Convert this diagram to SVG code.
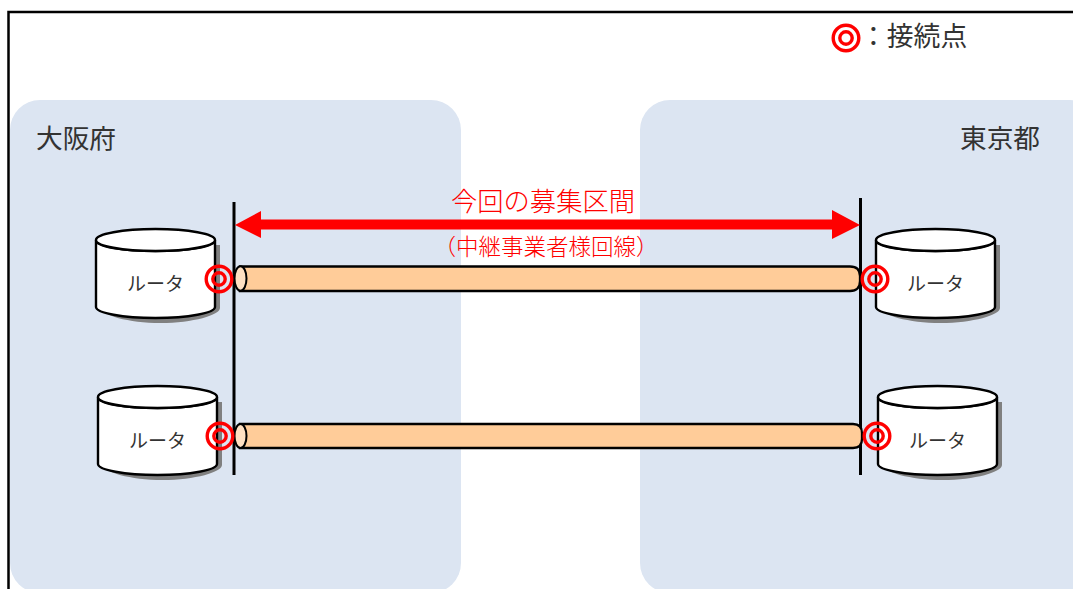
<svg xmlns="http://www.w3.org/2000/svg" width="1073" height="589" viewBox="0 0 1073 589">
<defs>
<style>
text{font-family:"Noto Sans CJK JP","Noto Sans",sans-serif;fill:#333;font-weight:400}
.panel{fill:#dce5f2}
.shadow{fill:#808080}
.body{fill:#fff;stroke:#000;stroke-width:2.400}
.pipe{fill:#ffcc99;stroke:#000;stroke-width:2.300}
.cap{fill:#ffe0c2;stroke:#000;stroke-width:2}
.bar{stroke:#000;stroke-width:3;fill:none}
.ring{fill:none;stroke:#f00;stroke-width:3.400}
.lab{font-size:19px;text-anchor:middle}
text.red{fill:#f00;font-weight:300}
.red{fill:#f00}
</style>
<g id="router-shape">
<path class="shadow" d="M5 16V79C5 86 32 94 64.500 94S124 86 124 79V16Z"/>
<path class="body" d="M0 11V78C0 84 27 89 59.500 89S119 84 119 78V11C119 18 92 22 59.500 22S0 18 0 11Z"/>
<ellipse class="body" cx="59.500" cy="11" rx="59.500" ry="11"/>
</g>
<g id="ring-shape">
<circle class="ring" r="12.800"/>
<circle class="ring" r="6.200"/>
</g>
</defs>
<rect width="1073" height="589" fill="#fff"/>
<path d="M8.500 589V12H1073" fill="none" stroke="#000" stroke-width="2.500"/>
<g id="region-osaka">
<rect class="panel" x="10" y="100" width="451" height="493" rx="30"/>
<text x="36" y="148" font-size="26.700">大阪府</text>
</g>
<g id="region-tokyo">
<rect class="panel" x="640" y="100" width="460" height="493" rx="30"/>
<text x="960" y="148" font-size="26.700">東京都</text>
</g>
<g id="legend">
<use href="#ring-shape" x="846" y="38"/>
<text x="860" y="46" font-size="26.800">：接続点</text>
</g>
<g id="connectors">
<path class="bar" d="M234 202V475"/>
<path class="bar" d="M860.500 198V475"/>
<path class="red" d="M235 225L261 211V219.500H832V210L860 225L832 239V229.500H261V238Z"/>
<path class="pipe" d="M240 266.500H850Q860 266.500 860 276V281Q860 291 850 291H240Z"/>
<ellipse class="cap" cx="240.500" cy="278.500" rx="6" ry="12.300"/>
<path class="pipe" d="M240 424H853Q862 424 862 433V439Q862 448 853 448H240Z"/>
<ellipse class="cap" cx="240.500" cy="436" rx="6" ry="12"/>
</g>
<g id="label-section">
<text class="red" x="543" y="211" font-size="26.300" text-anchor="middle">今回の募集区間</text>
<text class="red" x="546" y="255" font-size="22.500" text-anchor="middle">（中継事業者様回線）</text>
</g>
<g id="router-1">
<use href="#router-shape" x="96" y="229"/>
<text class="lab" x="155.500" y="291">ルータ</text>
</g>
<g id="router-2">
<use href="#router-shape" x="876" y="229"/>
<text class="lab" x="935.500" y="291">ルータ</text>
</g>
<g id="router-3">
<use href="#router-shape" x="98" y="386"/>
<text class="lab" x="157.500" y="448">ルータ</text>
</g>
<g id="router-4">
<use href="#router-shape" x="878" y="386"/>
<text class="lab" x="937.500" y="448">ルータ</text>
</g>
<g id="point-1"><use href="#ring-shape" x="219" y="279"/></g>
<g id="point-2"><use href="#ring-shape" x="875" y="279"/></g>
<g id="point-3"><use href="#ring-shape" x="220" y="436"/></g>
<g id="point-4"><use href="#ring-shape" x="877" y="436"/></g>
</svg>
